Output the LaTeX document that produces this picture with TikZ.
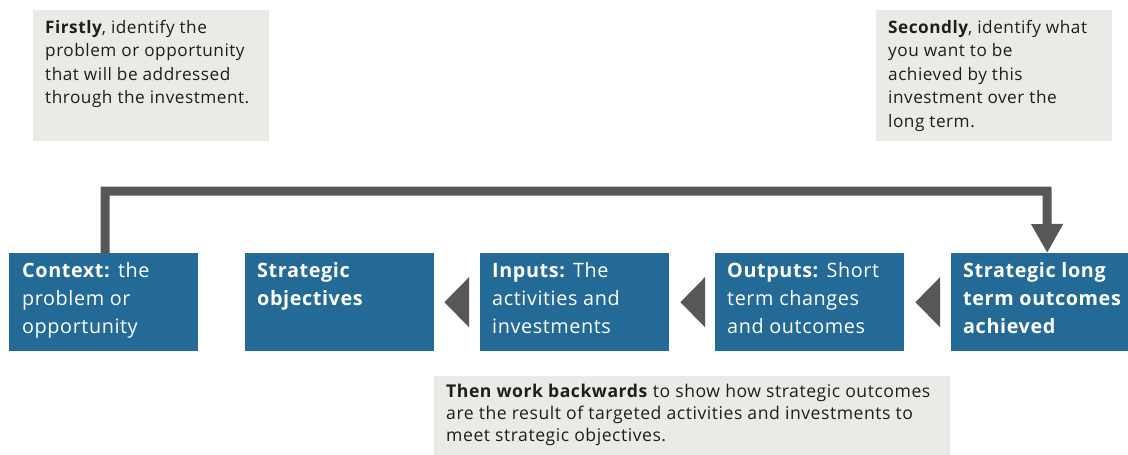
\documentclass[tikz,border=0pt]{standalone}
\usepackage{fontspec}
\setmainfont{Open Sans}[LetterSpace=3]
\usetikzlibrary{calc,arrows.meta}
\definecolor{boxblue}{HTML}{236A96}
\definecolor{notegray}{HTML}{EBEAE6}
\definecolor{darkarr}{HTML}{575757}
\definecolor{notetext}{HTML}{1E1E1E}
\begin{document}
\begin{tikzpicture}[x=1pt,y=-1pt,
  bluebox/.style={fill=boxblue, draw=none, minimum width=189pt, minimum height=98pt, anchor=north west, inner sep=0pt},
  bluetext/.style={anchor=north west, text=white, align=left, inner sep=0pt, font=\fontsize{19.8}{28}\selectfont},
  notebox/.style={fill=notegray, draw=none, anchor=north west, inner sep=0pt},
  notetxt/.style={anchor=north west, text=notetext, align=left, inner sep=0pt, font=\fontsize{17.2}{23.5}\selectfont},
  conn/.style={draw=darkarr, line width=9pt},
  tri/.style={fill=darkarr}
]
\path[use as bounding box] (0,0) rectangle (1128,455);

% notes
\node[notebox, minimum width=236pt, minimum height=131pt] (n1) at (33,10) {};
\node[notetxt] (n1t) at ([shift={(12,10)}]n1.north west) {\textbf{Firstly}, identify the\\problem or opportunity\\that will be addressed\\through the investment.};
\node[notebox, minimum width=236pt, minimum height=131pt] (n2) at (876,10) {};
\node[notetxt] (n2t) at ([shift={(12,10)}]n2.north west) {\textbf{Secondly}, identify what\\you want to be\\achieved by this\\investment over the\\long term.};
\node[notebox, minimum width=516pt, minimum height=79pt] (n3) at (434,376) {};
\node[notetxt, font=\fontsize{17.6}{22}\selectfont] (n3t) at ([shift={(12,8)}]n3.north west) {\textbf{Then work backwards} to show how strategic outcomes\\are the result of targeted activities and investments to\\meet strategic objectives.};

% blue boxes
\node[bluebox] (ctx) at (9,253) {};
\node[bluebox] (obj) at (245,253) {};
\node[bluebox] (inp) at (480,253) {};
\node[bluebox] (outp) at (715,253) {};
\node[bluebox, minimum width=177pt] (lto) at (951,253) {};

\node[bluetext] (ctxt) at ([shift={(13,9)}]ctx.north west) {\textbf{Context:} the\\problem or\\opportunity};
\node[bluetext] (objt) at ([shift={(12,9)}]obj.north west) {\textbf{Strategic}\\\textbf{objectives}};
\node[bluetext] (inpt) at ([shift={(12,9)}]inp.north west) {\textbf{Inputs:} The\\activities and\\investments};
\node[bluetext] (outpt) at ([shift={(12,9)}]outp.north west) {\textbf{Outputs:} Short\\term changes\\and outcomes};
\node[bluetext] (ltot) at ([shift={(12,9)}]lto.north west) {\textbf{Strategic long}\\\textbf{term outcomes}\\\textbf{achieved}};

% left-pointing triangles
\fill[tri] ($(obj.east)+(10,0)$) -- ($(inp.west)+(-11,-25)$) -- ($(inp.west)+(-11,25)$) -- cycle;
\fill[tri] ($(inp.east)+(11,0)$) -- ($(outp.west)+(-10,-25)$) -- ($(outp.west)+(-10,25)$) -- cycle;
\fill[tri] ($(outp.east)+(11,0)$) -- ($(lto.west)+(-11,-25)$) -- ($(lto.west)+(-11,25)$) -- cycle;

% feedback connector
\coordinate (top) at (0,191);
\draw[conn, -{Triangle[length=29pt 0, width=30pt 0]}]
  ([xshift=1.5]ctx.north) |- (top -| 1047,0) -- ([xshift=7.5]lto.north);
\end{tikzpicture}
\end{document}
